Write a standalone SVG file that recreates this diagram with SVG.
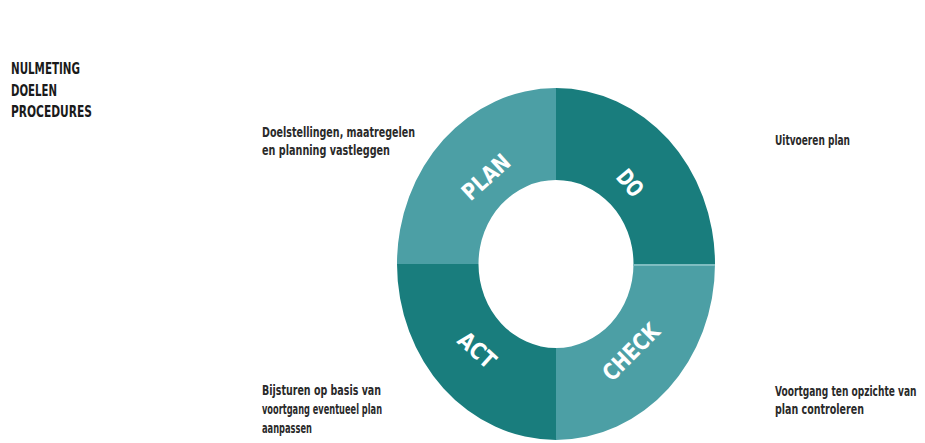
<svg xmlns="http://www.w3.org/2000/svg" width="925" height="443" viewBox="0 0 925 443">
<style>
.hdr{font-family:"DejaVu Sans Condensed","DejaVu Sans",sans-serif;font-weight:bold;font-size:16px;fill:#1a1a1a}
.desc{font-family:"DejaVu Sans Condensed","DejaVu Sans",sans-serif;font-weight:bold;font-size:14px;fill:#2a2a2a}
.lbl{font-family:"DejaVu Sans Condensed","DejaVu Sans",sans-serif;font-weight:bold;font-size:23px;fill:#ffffff;text-anchor:middle}
.light{fill:#4c9fa5}
.dark{fill:#197d7d}
</style>
<rect width="925" height="443" fill="#ffffff"/>
<g id="header">
<text class="hdr" x="11" y="74" textLength="69" lengthAdjust="spacingAndGlyphs">NULMETING</text>
<text class="hdr" x="11" y="96" textLength="46" lengthAdjust="spacingAndGlyphs">DOELEN</text>
<text class="hdr" x="11" y="117" textLength="81" lengthAdjust="spacingAndGlyphs">PROCEDURES</text>
</g>
<g id="plan">
<path class="light" d="M397,264 A159,176 0 0 1 556,88 L556,180 A77.5,84 0 0 0 478.5,264 Z"/>
<text class="lbl" transform="translate(486,177) rotate(-42)" y="8" textLength="56" lengthAdjust="spacingAndGlyphs">PLAN</text>
<text class="desc" x="262" y="137" textLength="153" lengthAdjust="spacingAndGlyphs">Doelstellingen, maatregelen</text>
<text class="desc" x="262" y="155" textLength="128" lengthAdjust="spacingAndGlyphs">en planning vastleggen</text>
</g>
<g id="do">
<path class="dark" d="M556,88 A159,176 0 0 1 715,264 L633.5,264 A77.5,84 0 0 0 556,180 Z"/>
<text class="lbl" transform="translate(630,183) rotate(50)" y="8" textLength="28" lengthAdjust="spacingAndGlyphs">DO</text>
<text class="desc" x="775" y="145" textLength="75" lengthAdjust="spacingAndGlyphs">Uitvoeren plan</text>
</g>
<g id="check">
<path class="light" d="M715,264 A159,176 0 0 1 556,440 L556,348 A77.5,84 0 0 0 633.5,264 Z"/>
<rect x="633" y="264" width="82" height="2" fill="#7fbdc1"/>
<text class="lbl" transform="translate(631,352) rotate(-45)" y="8" textLength="70" lengthAdjust="spacingAndGlyphs">CHECK</text>
<text class="desc" transform="translate(775,396) scale(0.72,1)">Voortgang ten opzichte van</text>
<text class="desc" x="775" y="414" textLength="89" lengthAdjust="spacingAndGlyphs">plan controleren</text>
</g>
<g id="act">
<path class="dark" d="M556,440 A159,176 0 0 1 397,264 L478.5,264 A77.5,84 0 0 0 556,348 Z"/>
<text class="lbl" transform="translate(477,350) rotate(42)" y="8" textLength="42" lengthAdjust="spacingAndGlyphs">ACT</text>
<text class="desc" x="262" y="395" textLength="119" lengthAdjust="spacingAndGlyphs">Bijsturen op basis van</text>
<text class="desc" x="262" y="414" textLength="120" lengthAdjust="spacingAndGlyphs">voortgang eventueel plan</text>
<text class="desc" x="262" y="433" textLength="50" lengthAdjust="spacingAndGlyphs">aanpassen</text>
</g>
<g id="connectors"></g>
</svg>
